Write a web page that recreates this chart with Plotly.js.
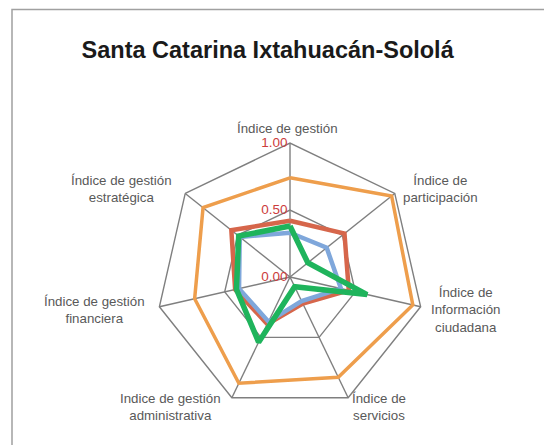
<!DOCTYPE html>
<html>
<head>
<meta charset="utf-8">
<script src="https://cdn.plot.ly/plotly-3.0.1.min.js"></script>
<style>html,body{margin:0;padding:0;background:#fff;}#chart{width:544px;height:445px;}</style>
</head>
<body>
<div id="chart"></div>
<script>
var categories = [
  "Índice de gestión",
  "Índice de<br>participación",
  "Índice de<br>Información<br>ciudadana",
  "Índice de<br>servicios",
  "Indice de gestión<br>administrativa",
  "Índice de gestión<br>financiera",
  "Índice de gestión<br>estratégica"
];
var seriesOrange = [0.74, 0.97, 0.94, 0.83, 0.88, 0.73, 0.83];
var seriesRed    = [0.42, 0.52, 0.45, 0.22, 0.39, 0.42, 0.56];
var seriesBlue   = [0.33, 0.35, 0.39, 0.20, 0.37, 0.39, 0.48];
var seriesGreen  = [0.38, 0.17, 0.59, 0.08, 0.54, 0.41, 0.49];
var radialTicks = [0, 0.5, 1];
var radialTickText = ["0.00", "0.50", "1.00"];

// label placement (pixel centres of each category label block)
var labelPos = [[287,128],[440,189],[465,310],[379,407],[170,407],[94,310],[121,189]];

function closed(a){ return a.concat([a[0]]); }

function trace(vals, color, width){
  return {
    type: "scatterpolar",
    r: closed(vals),
    theta: closed(categories),
    mode: "lines",
    line: {color: color, width: width},
    hoverinfo: "skip",
    showlegend: false
  };
}

var data = [
  trace(seriesOrange, "#EE9E4C", 3.5),
  trace(seriesRed, "#D6664B", 4.5),
  trace(seriesBlue, "#7FA7DB", 4.5),
  trace(seriesGreen, "#1FB45C", 5.5)
];

var W = 544, H = 445;
var annotations = categories.map(function(c, i){
  return {
    text: c, xref: "paper", yref: "paper",
    x: labelPos[i][0]/W, y: 1 - labelPos[i][1]/H,
    xanchor: "center", yanchor: "middle", align: "center",
    showarrow: false,
    font: {family: "Liberation Sans, Arial, sans-serif", size: 13.3, color: "#595959"}
  };
});

var layout = {
  width: W, height: H,
  margin: {l: 0, r: 0, t: 0, b: 0},
  paper_bgcolor: "#ffffff",
  font: {family: "Liberation Sans, Arial, sans-serif", color: "#595959"},
  title: {
    text: "<b>Santa Catarina Ixtahuacán-Sololá</b>",
    font: {family: "Liberation Sans, Arial, sans-serif", size: 23.5, color: "#1a1a1a"},
    x: 0.492, xanchor: "center", y: 0.888, yanchor: "middle"
  },
  annotations: annotations,
  polar: {
    domain: {x: [0.2868, 0.7794], y: [0.0764, 0.6787]},
    bgcolor: "rgba(0,0,0,0)",
    gridshape: "linear",
    angularaxis: {
      direction: "clockwise",
      rotation: 90,
      showline: true,
      linecolor: "#7f7f7f",
      linewidth: 1.4,
      gridcolor: "#7f7f7f",
      gridwidth: 1.4,
      ticks: "",
      showticklabels: false
    },
    radialaxis: {
      range: [0, 1],
      angle: 90,
      tickangle: 90,
      side: "counterclockwise",
      tickvals: radialTicks,
      ticktext: radialTickText,
      tickfont: {family: "Liberation Sans, Arial, sans-serif", size: 13.5, color: "#CC3C3C"},
      showline: false,
      gridcolor: "#7f7f7f",
      gridwidth: 1.4,
      ticks: ""
    }
  },
  shapes: [{
    type: "rect", xref: "paper", yref: "paper",
    x0: 12/544, x1: 1.05, y0: -0.05, y1: 1 - 9.5/445,
    line: {color: "#a0a0a0", width: 1.5}, fillcolor: "rgba(0,0,0,0)"
  }]
};

Plotly.newPlot("chart", data, layout, {staticPlot: true, displayModeBar: false});
</script>
</body>
</html>
